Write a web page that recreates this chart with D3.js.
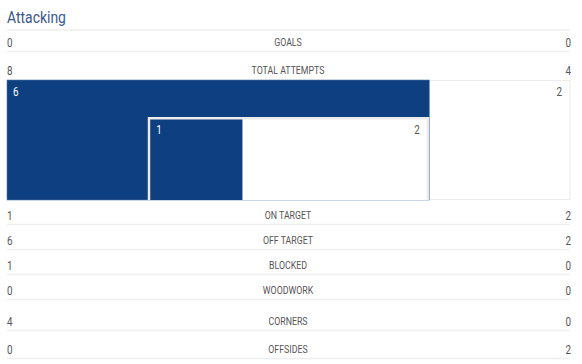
<!DOCTYPE html>
<html>
<head>
<meta charset="utf-8">
<script src="https://cdn.jsdelivr.net/npm/d3@7"></script>
<style>
  html, body { margin: 0; padding: 0; background: #fff; }
  svg { display: block; font-family: Roboto, "Open Sans", sans-serif; }
  .title { fill: #3a5a8c; font-size: 17px; }
  .val { fill: #555; font-size: 12px; }
  .lab { fill: #555; font-size: 10px; text-anchor: middle; }
  .sep { stroke: #efefef; stroke-width: 1.5; }
</style>
</head>
<body>
<svg id="chart" width="582" height="364"></svg>
<script>
// данные
const categories = ["GOALS", "TOTAL ATTEMPTS", "ON TARGET", "OFF TARGET", "BLOCKED", "WOODWORK", "CORNERS", "OFFSIDES"];
const home = [0, 8, 1, 6, 1, 0, 4, 0];
const away = [0, 4, 2, 2, 0, 0, 0, 2];

const width = 582, height = 364;
const left = 7, right = 571;
const svg = d3.select("#chart");

// текст с горизонтальным сжатием (узкий шрифт)
function ntext(cls, x, y, str, anchor, sx) {
  return svg.append("text").attr("class", cls)
    .attr("transform", `translate(${x},${y}) scale(${sx || 0.82},1)`)
    .attr("text-anchor", anchor || "start")
    .text(str);
}

// заголовок
ntext("title", left, 23, "Attacking");

// позиции строк
const rowY = d3.scaleOrdinal()
  .domain(categories)
  .range([42, 70, 215, 240, 265, 290, 321, 349]);

// разделители
svg.append("line").attr("class", "sep")
  .attr("x1", left).attr("x2", right - 1).attr("y1", 30).attr("y2", 30);
categories.forEach(c => {
  if (c === "TOTAL ATTEMPTS") return;
  svg.append("line").attr("class", "sep")
    .attr("x1", left).attr("x2", right - 1)
    .attr("y1", rowY(c) + 9.5).attr("y2", rowY(c) + 9.5);
});

// строки со значениями
categories.forEach((c, i) => {
  const y = rowY(c) + 4.5;
  ntext("val", left, y, home[i]);
  ntext("val", right, y, away[i], "end");
  ntext("lab", 288, rowY(c) + 3.5, c, "middle", 0.88);
});

// блок ударов: внешний — мимо ворот, внутренний — в створ
const offH = home[categories.indexOf("OFF TARGET")];
const offA = away[categories.indexOf("OFF TARGET")];
const onH = home[categories.indexOf("ON TARGET")];
const onA = away[categories.indexOf("ON TARGET")];

const boxTop = 80, boxBottom = 200, innerTop = 117;
const xOuter = d3.scaleLinear().domain([0, offH + offA]).range([left, 570]);
const innerL = xOuter((offH + offA) / 4), innerR = xOuter((offH + offA) * 3 / 4);
const xInner = d3.scaleLinear().domain([0, onH + onA]).range([innerL + 2.5, innerR - 2.5]);

const dark = "#0e3f80";

// внешний
svg.append("rect").attr("x", xOuter(offH)).attr("y", boxTop + 0.5)
  .attr("width", xOuter(offH + offA) - xOuter(offH)).attr("height", boxBottom - boxTop - 1)
  .attr("fill", "#fff").attr("stroke", "#ececec");
svg.append("rect").attr("x", xOuter(0)).attr("y", boxTop)
  .attr("width", xOuter(offH) - xOuter(0)).attr("height", boxBottom - boxTop)
  .attr("fill", dark).attr("stroke", "#5577aa").attr("stroke-width", 0.6);

// внутренняя рамка
svg.append("rect").attr("x", innerL).attr("y", innerTop)
  .attr("width", innerR - innerL).attr("height", boxBottom - innerTop)
  .attr("fill", "#ebebeb");
svg.append("rect").attr("x", xInner(onH)).attr("y", innerTop + 2.5)
  .attr("width", xInner(onH + onA) - xInner(onH)).attr("height", boxBottom - innerTop - 2.5)
  .attr("fill", "#fff");
svg.append("rect").attr("x", xInner(0)).attr("y", innerTop + 2.5)
  .attr("width", xInner(onH) - xInner(0)).attr("height", boxBottom - innerTop - 2.5)
  .attr("fill", dark);

// подписи блока
ntext("val", xOuter(0) + 6, boxTop + 16, offH).style("fill", "#fff");
ntext("val", xOuter(offH + offA) - 8, boxTop + 16, offA, "end");
ntext("val", xInner(0) + 6, innerTop + 17, onH).style("fill", "#fff");
ntext("val", xInner(onH + onA) - 7, innerTop + 17, onA, "end");
</script>
</body>
</html>
